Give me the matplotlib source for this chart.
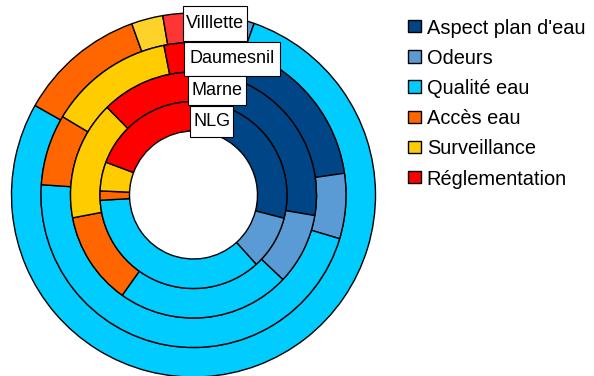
import matplotlib
matplotlib.use("Agg")
from matplotlib import pyplot as plt
from matplotlib.patches import Rectangle

plt.rcParams['font.family'] = ['Liberation Sans', 'DejaVu Sans']

# Share of remarks per theme (%), one list per site
categories = ["Aspect plan d'eau", "Odeurs", "Qualité eau",
              "Accès eau", "Surveillance", "Réglementation"]
nlg = [29.0, 9.3, 35.8, 1.6, 5.0, 19.3]
marne = [27.7, 9.4, 22.8, 12.2, 15.6, 12.4]
daumesnil = [22.7, 6.9, 46.4, 7.5, 13.3, 3.1]
villette = [2.7, 2.7, 77.7, 11.3, 2.8, 2.7]
sites = ["Villlette", "Daumesnil", "Marne", "NLG"]

colors = ['#004586', '#5b9bd5', '#00ccff', '#ff6600', '#ffcc00', '#ff0000']
# the outer ring uses a lighter red / yellow
colors_outer = ['#004586', '#5b9bd5', '#00ccff', '#ff6600', '#ffd22a', '#ff3535']


def main():
    W, H = 594, 376
    fig = plt.figure(figsize=(W / 100, H / 100), dpi=100)
    # axes in pixel units, origin bottom-left
    ax = fig.add_axes([0, 0, 1, 1])

    cx, cy = 193.5, 376 - 195
    r_out = 182.0
    ring = 29.5

    rings = [villette, daumesnil, marne, nlg]
    for i, vals in enumerate(rings):
        cols = colors_outer if i == 0 else colors
        ax.pie(vals, radius=r_out - i * ring, center=(cx, cy),
               colors=cols, startangle=90, counterclock=False,
               wedgeprops=dict(width=ring, edgecolor='black', linewidth=1.0))

    ax.set_xlim(0, W)
    ax.set_ylim(0, H)
    ax.set_aspect('auto')
    ax.axis('off')

    # site name boxes (x0, x1, top, bottom) in pixels from top-left
    boxes = [(182.7, 246.7, 6.0, 40.7),
             (184.3, 280.0, 41.7, 76.0),
             (187.7, 245.7, 76.0, 105.0),
             (190.0, 233.3, 106.0, 136.7)]
    for name, (x0, x1, top, bot) in zip(sites, boxes):
        ax.add_patch(Rectangle((x0, H - bot), x1 - x0, bot - top,
                               facecolor='white', edgecolor='black',
                               linewidth=0.8, zorder=5))
        ax.text((x0 + x1) / 2, H - (top + bot) / 2, name,
                ha='center', va='center', fontsize=13, zorder=6)

    # legend
    for k, (lab, col) in enumerate(zip(categories, colors)):
        yc = H - (26.2 + k * 30.2)
        ax.add_patch(Rectangle((408.3, yc - 6.2), 12.4, 12.4,
                               facecolor=col, edgecolor='black',
                               linewidth=1.0, zorder=5))
        ax.text(426.7, yc, lab, ha='left', va='center_baseline',
                fontsize=14.4)

    fig.savefig("out.png", dpi=100)


if __name__ == '__main__':
    main()
